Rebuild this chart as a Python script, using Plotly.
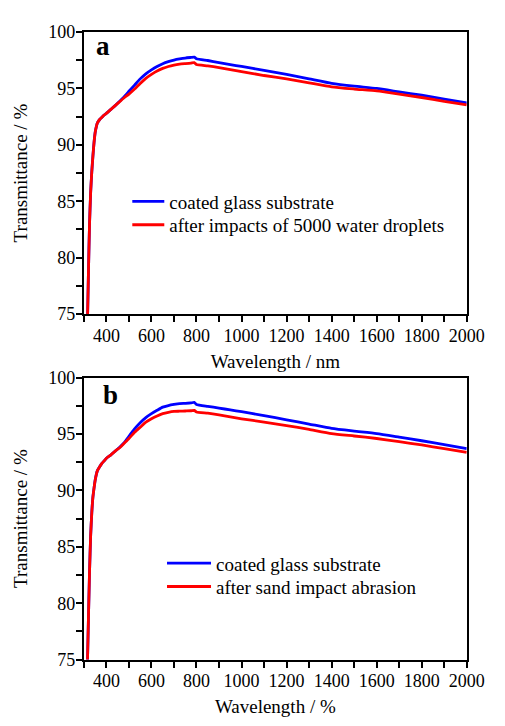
import plotly.graph_objects as go

# ---- data ----
wavelength = [315, 320, 325, 330, 335, 340, 345, 350, 355, 360, 370, 380, 390, 400,
              420, 440, 460, 480, 500, 525, 550, 575, 600, 625, 650, 675, 700, 725,
              750, 775, 790, 800, 850, 900, 950, 1000, 1100, 1200, 1300, 1400, 1500,
              1600, 1700, 1800, 1900, 2000]

a_coated = [73.5, 78.5, 83.0, 85.8, 87.6, 89.0, 90.2, 91.1, 91.6, 91.95, 92.25, 92.45, 92.65, 92.8,
            93.15, 93.5, 93.9, 94.3, 94.75, 95.3, 95.85, 96.3, 96.65, 96.95, 97.2, 97.38, 97.52, 97.62,
            97.7, 97.75, 97.78, 97.64, 97.48, 97.3, 97.12, 96.95, 96.6, 96.25, 95.85, 95.45, 95.2,
            95.0, 94.7, 94.4, 94.05, 93.72]
a_water = [73.5, 78.5, 83.0, 85.8, 87.6, 89.0, 90.2, 91.1, 91.6, 91.95, 92.25, 92.45, 92.65, 92.8,
           93.15, 93.5, 93.85, 94.2, 94.5, 94.95, 95.45, 95.9, 96.25, 96.55, 96.78, 96.95, 97.07, 97.15,
           97.2, 97.25, 97.3, 97.12, 97.0, 96.85, 96.67, 96.5, 96.15, 95.85, 95.5, 95.15, 94.95,
           94.78, 94.5, 94.2, 93.85, 93.55]

b_coated = [74.0, 78.5, 82.8, 86.0, 88.0, 89.4, 90.2, 90.9, 91.4, 91.75, 92.1, 92.4, 92.62, 92.85,
            93.15, 93.5, 93.85, 94.25, 94.8, 95.45, 96.0, 96.45, 96.8, 97.1, 97.38, 97.52, 97.62, 97.7,
            97.72, 97.75, 97.8, 97.62, 97.45, 97.3, 97.13, 96.98, 96.62, 96.26, 95.88, 95.49, 95.25,
            95.03, 94.72, 94.4, 94.05, 93.7]
b_sand = [74.0, 78.5, 82.8, 86.0, 88.0, 89.4, 90.2, 90.9, 91.4, 91.75, 92.1, 92.4, 92.62, 92.85,
          93.15, 93.5, 93.8, 94.2, 94.6, 95.15, 95.6, 96.05, 96.35, 96.6, 96.8, 96.92, 97.0, 97.02,
          97.04, 97.06, 97.1, 96.95, 96.85, 96.7, 96.52, 96.35, 96.05, 95.75, 95.4, 95.03, 94.82,
          94.6, 94.32, 94.03, 93.7, 93.36]

name_coated = "coated glass substrate"
name_water = "after impacts of 5000 water droplets"
name_sand = "after sand impact abrasion"

x_tickvals = [400, 600, 800, 1000, 1200, 1400, 1600, 1800, 2000]
y_tickvals = [75, 80, 85, 90, 95, 100]

BLUE = "#0000FF"
RED = "#FF0000"
FONT = "Liberation Serif"
W, H = 505, 726
LW = 2.8

fig = go.Figure()
fig.add_trace(go.Scatter(x=wavelength, y=a_coated, name=name_coated, mode="lines",
                         line=dict(color=BLUE, width=LW, shape="spline", smoothing=0.5),
                         xaxis="x", yaxis="y", legend="legend"))
fig.add_trace(go.Scatter(x=wavelength, y=a_water, name=name_water, mode="lines",
                         line=dict(color=RED, width=LW, shape="spline", smoothing=0.5),
                         xaxis="x", yaxis="y", legend="legend2"))
fig.add_trace(go.Scatter(x=wavelength, y=b_coated, name=name_coated, mode="lines",
                         line=dict(color=BLUE, width=LW, shape="spline", smoothing=0.5),
                         xaxis="x2", yaxis="y2", legend="legend3"))
fig.add_trace(go.Scatter(x=wavelength, y=b_sand, name=name_sand, mode="lines",
                         line=dict(color=RED, width=LW, shape="spline", smoothing=0.5),
                         xaxis="x2", yaxis="y2", legend="legend4"))

xdom = [87 / W, 484 / W]
ydom_a = [1 - 312.7 / H, 1 - 22.7 / H]
ydom_b = [1 - 668 / H, 1 - 378 / H]

def xax(title, anchor):
    return dict(domain=xdom, range=[300, 2000], anchor=anchor,
                tickvals=x_tickvals, ticks="outside", ticklen=6, tickwidth=2, tickcolor="black",
                minor=dict(dtick=100, tick0=0, ticks="outside", ticklen=6, tickwidth=2, tickcolor="black"),
                showline=True, linewidth=2, linecolor="black", mirror=True,
                showgrid=False, zeroline=False, ticklabelstandoff=-2,
                tickfont=dict(family=FONT, size=18, color="black"),
                title=dict(text=title, font=dict(family=FONT, size=19, color="black"), standoff=10))

def yax(dom, anchor):
    return dict(domain=dom, range=[75, 100], anchor=anchor,
                tickvals=y_tickvals, ticks="outside", ticklen=6, tickwidth=2, tickcolor="black",
                minor=dict(dtick=2.5, tick0=75, ticks="outside", ticklen=6, tickwidth=2, tickcolor="black"),
                showline=True, linewidth=2, linecolor="black", mirror=True,
                showgrid=False, zeroline=False, ticklabelstandoff=-3,
                tickfont=dict(family=FONT, size=18, color="black"),
                title=dict(text="Transmittance / %", font=dict(family=FONT, size=19, color="black"), standoff=16))

legfont = dict(family=FONT, size=19, color="black")
def leg(x, y, iw):
    return dict(x=x / W, y=1 - y / H, xanchor="left", yanchor="middle",
                font=legfont, bgcolor="rgba(0,0,0,0)", borderwidth=0, itemwidth=iw)

fig.update_layout(
    width=W, height=H, autosize=False, showlegend=True,
    margin=dict(l=0, r=0, t=0, b=0),
    paper_bgcolor="white", plot_bgcolor="white",
    xaxis=xax("Wavelength / nm", "y"),
    yaxis=yax(ydom_a, "x"),
    xaxis2=xax("Wavelength / %", "y2"),
    yaxis2=yax(ydom_b, "x2"),
    legend=leg(132, 197, 32),
    legend2=leg(132, 221, 32),
    legend3=leg(168, 569, 44),
    legend4=leg(168, 593, 44),
    annotations=[
        dict(text="<b>a</b>", x=xdom[0] + 10 / W, y=ydom_a[1] + 3 / H, xref="paper", yref="paper",
             xanchor="left", yanchor="top", showarrow=False,
             font=dict(family=FONT, size=27, color="black")),
        dict(text="<b>b</b>", x=xdom[0] + 18 / W, y=ydom_b[1], xref="paper", yref="paper",
             xanchor="left", yanchor="top", showarrow=False,
             font=dict(family=FONT, size=27, color="black")),
    ],
)

fig.write_html("out.html")
